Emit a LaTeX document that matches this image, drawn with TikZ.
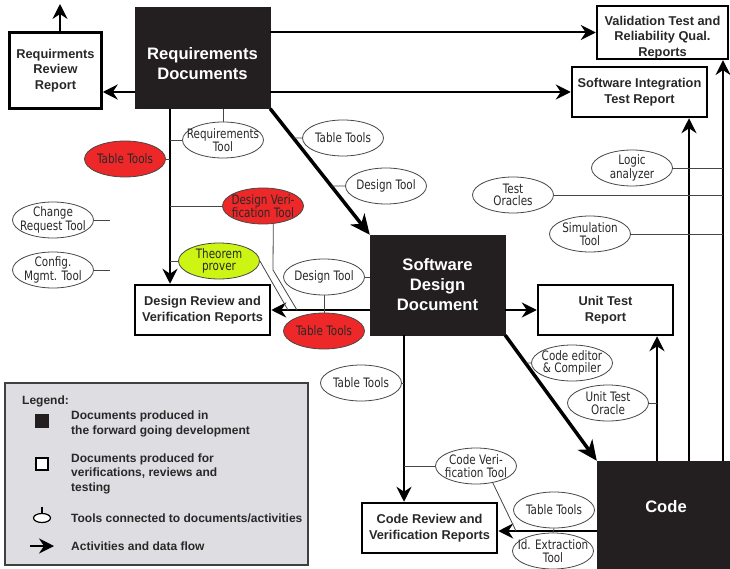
\documentclass[tikz,border=0pt]{standalone}
\usepackage{fontspec}
\setmainfont{Liberation Sans}
\newfontfamily\toolfont{DejaVu Sans}[FakeStretch=0.8]
\usepackage{xcolor}
\usetikzlibrary{shapes.geometric, arrows.meta, positioning, calc}

\definecolor{docblack}{RGB}{35,31,32}
\definecolor{toolred}{RGB}{238,40,40}
\definecolor{toolyellow}{RGB}{204,245,20}
\definecolor{legendgray}{RGB}{222,222,226}
\definecolor{linkgray}{RGB}{70,70,70}
\definecolor{textgray}{RGB}{40,40,40}

\tikzset{
  docbox/.style={draw=docblack, fill=docblack, text=white, inner sep=0pt, align=center,
    font=\bfseries\fontsize{16.6}{20}\selectfont},
  repbox/.style={draw=black, line width=2.5pt, fill=white, text=textgray, inner sep=0pt,
    align=center, font=\bfseries\fontsize{12.8}{15.5}\selectfont},
  tool/.style={ellipse, draw=linkgray, line width=0.8pt, fill=white, text=textgray,
    inner xsep=-8pt, inner ysep=-4pt, minimum width=81pt, minimum height=36pt,
    align=center, font=\toolfont\fontsize{13}{12.5}\selectfont},
  redtool/.style={tool, fill=toolred},
  yellowtool/.style={tool, fill=toolyellow},
  flow/.style={line width=2pt, -{Stealth[length=15pt, width=15pt, inset=5pt]}},
  bigflow/.style={line width=3.5pt, -{Stealth[length=20pt, width=18pt, inset=6pt]}},
  link/.style={line width=0.8pt, draw=linkgray},
  legtext/.style={anchor=west, inner sep=0pt, align=left, text=textgray,
    font=\bfseries\fontsize{12}{14.5}\selectfont}
}

\begin{document}
\begin{tikzpicture}[x=1pt, y=-1pt]
  \useasboundingbox (0,0) rectangle (730,569);

  % documents of the forward development
  \node[docbox, minimum width=135pt, minimum height=101pt] (req) at (202.5,58) {\rule{0pt}{24pt}Requirements\\Documents};
  \node[docbox, minimum width=135pt, minimum height=100pt] (sdd) at (437.5,285) {Software\\Design\\Document};
  \node[docbox, minimum width=138pt, minimum height=118pt, text depth=27pt] (code) at (666,520) {Code};

  % reports
  \node[repbox, minimum width=92pt, minimum height=76pt] (rrr) at (55.5,70.5) {Requirments\\Review\\Report};
  \node[repbox, minimum width=131pt, minimum height=51pt] (val) at (662.5,32.5) {\rule{0pt}{19pt}Validation Test and\\Reliability Qual.\\Reports};
  \node[repbox, minimum width=135pt, minimum height=50pt] (sit) at (639.5,92) {Software Integration\\Test Report};
  \node[repbox, minimum width=135pt, minimum height=50pt] (drv) at (202.5,310) {Design Review and\\Verification Reports};
  \node[repbox, minimum width=135pt, minimum height=50pt] (utr) at (605.5,310) {Unit Test\\Report};
  \node[repbox, minimum width=135pt, minimum height=50pt] (crv) at (429.5,528) {Code Review and\\Verification Reports};

  % helper coordinates
  \coordinate (reqdrop) at (170,0);
  \coordinate (sdddrop) at (404,0);
  \coordinate (utrup) at (657,0);
  \coordinate (situp) at (689,0);
  \coordinate (valup) at (723,0);
  \coordinate (rrrout) at (60,4);
  \coordinate (codeout) at (0,531);
  \coordinate (chreqend) at (110,220);
  \coordinate (cfgend) at (110,270);
  \coordinate (dvbend) at (273,270);
  \coordinate (dvjoin) at (297,310);
  \coordinate (thmjoin) at (288,310);
  \coordinate (cvjoin) at (516,531);

  % activities and data flow
  \draw[flow] (rrr.north -| rrrout) -- (rrrout);
  \draw[flow] (req.west |- sit.west) -- (rrr.east |- sit.west);
  \draw[flow] (req.east |- val.west) -- (val.west);
  \draw[flow] (req.east |- sit.west) -- (sit.west);
  \draw[flow] (req.south -| reqdrop) -- (drv.north -| reqdrop);
  \draw[bigflow] (req.south east) -- (sdd.north west);
  \draw[flow] (sdd.west |- drv.east) -- (drv.east);
  \draw[flow] (sdd.east |- utr.west) -- (utr.west);
  \draw[bigflow] (sdd.south east) -- (code.north west);
  \draw[flow] (sdd.south -| sdddrop) -- (crv.north -| sdddrop);
  \draw[flow] (code.west |- codeout) -- (crv.east |- codeout);
  \draw[flow] (code.north -| utrup) -- (utr.south -| utrup);
  \draw[flow] (code.north -| situp) -- (sit.south -| situp);
  \draw[flow] (code.north -| valup) -- (val.south -| valup);

  % tools
  \node[tool] (reqtool) at (223,140) {Requirements\\Tool};
  \node[redtool] (tabreq) at (125,159) {Table Tools};
  \node[tool] (tabdiag) at (343,138) {Table Tools};
  \node[tool] (desdiag) at (386,186) {Design Tool};
  \node[redtool] (desver) at (263,206) {Design Veri-\\fication Tool};
  \node[yellowtool] (thm) at (219,261) {Theorem\\prover};
  \node[tool] (desleft) at (324,277) {Design Tool};
  \node[redtool] (tableft) at (324,331) {Table Tools};
  \node[tool] (chreq) at (53,220) {Change\\Request Tool};
  \node[tool] (cfg) at (53,270) {Config.\\Mgmt. Tool};
  \node[tool] (logic) at (632,168) {Logic\\analyzer};
  \node[tool] (oracle) at (513,195) {Test\\Oracles};
  \node[tool] (sim) at (590,234) {Simulation\\Tool};
  \node[tool] (edit) at (572,363) {Code editor\\\& Compiler};
  \node[tool] (uto) at (608,403) {Unit Test\\Oracle};
  \node[tool] (tabdown) at (361,383) {Table Tools};
  \node[tool] (codever) at (476,466) {Code Veri-\\fication Tool};
  \node[tool] (tabcode) at (554,510) {Table Tools};
  \node[tool] (idext) at (553,551) {Id. Extraction\\Tool};

  % tool links
  \draw[link] (reqtool.north) -- (reqtool.north |- req.south);
  \draw[link] (reqtool.west) -- (reqtool.west -| reqdrop);
  \draw[link] (tabreq.east) -- (tabreq.east -| reqdrop);
  \draw[link] (desver.west) -- (desver.west -| reqdrop);
  \draw[link] (thm.west) -- (thm.west -| reqdrop);
  \draw[link] (desver.-60) -- (dvbend) -- (dvjoin);
  \draw[link] (thm.east) -- (thmjoin);
  \draw[link] (tabdiag.west) -- (intersection of req.south east--sdd.north west and tabdiag.west--tabdiag.east);
  \draw[link] (desdiag.west) -- (intersection of req.south east--sdd.north west and desdiag.west--desdiag.east);
  \draw[link] (desleft.east) -- (desleft.east -| sdd.west);
  \draw[link] (desleft.south) -- (desleft.south |- drv.east);
  \draw[link] (tableft.north) -- (tableft.north |- drv.east);
  \draw[link] (chreq.east) -- (chreqend);
  \draw[link] (cfg.east) -- (cfgend);
  \draw[link] (logic.east) -- (logic.east -| valup);
  \draw[link] (oracle.east) -- (oracle.east -| valup);
  \draw[link] (sim.east) -- (sim.east -| valup);
  \draw[link] (edit.west) -- (intersection of sdd.south east--code.north west and edit.west--edit.east);
  \draw[link] (uto.east) -- (uto.east -| utrup);
  \draw[link] (tabdown.east) -- (tabdown.east -| sdddrop);
  \draw[link] (codever.west) -- (codever.west -| sdddrop);
  \draw[link] (codever.-45) -- (cvjoin);
  \draw[link] (tabcode.south) -- (idext.north);

  % legend
  \node[draw=black!75, line width=1.2pt, fill=legendgray, minimum width=303pt, minimum height=182pt] (legend) at (156.5,474) {};
  \node[legtext] (legtitle) at (22,401) {Legend:};
  \node[fill=docblack, minimum size=14pt, inner sep=0pt] (legdoc) at (42,421) {};
  \node[legtext] (legdoctext) at (71,424) {Documents produced in\\the forward going development};
  \node[draw=black, line width=2pt, fill=white, minimum size=12pt, inner sep=0pt] (legrep) at (42,464) {};
  \node[legtext] (legreptext) at (71,473.5) {Documents produced for\\verifications, reviews and\\testing};
  \node[ellipse, draw=black, line width=1.2pt, fill=white, minimum width=17pt, minimum height=9pt, inner sep=0pt] (legtool) at (42,518) {};
  \draw[line width=1.2pt] (legtool.north) -- ++(0,-6);
  \node[legtext] (legtooltext) at (71,518) {Tools connected to documents/activities};
  \coordinate (legarrow) at (30,546);
  \node[legtext] (legflowtext) at (71,546) {Activities and data flow};
  \draw[flow] (legarrow) -- ++(24,0);
\end{tikzpicture}
\end{document}
